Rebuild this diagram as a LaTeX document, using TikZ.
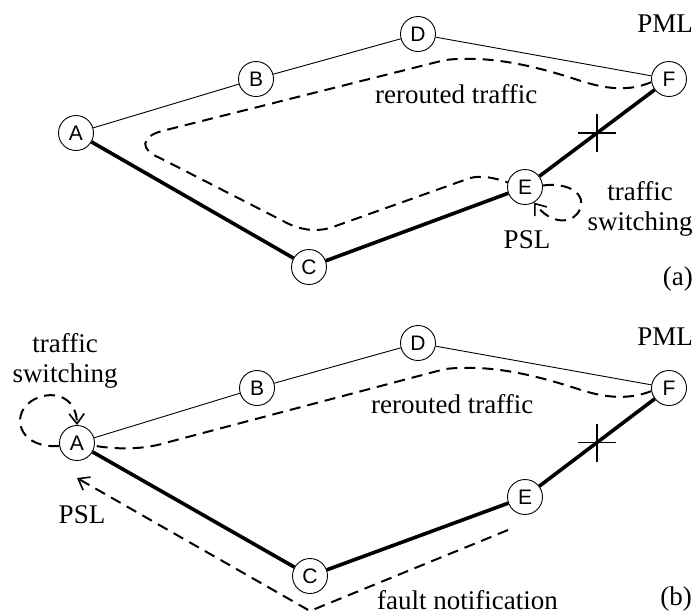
\documentclass[tikz,border=0pt]{standalone}
\usepackage{fontspec}
\setmainfont{Liberation Serif}
\newfontfamily\nodefont{Liberation Sans}
\usetikzlibrary{arrows.meta,calc}
\begin{document}
\begin{tikzpicture}[x=1pt,y=-1pt,
  router/.style={circle,draw,line width=0.9pt,fill=white,minimum size=35pt,inner sep=0pt,font=\nodefont\fontsize{21}{23}\selectfont},
  thinlink/.style={line width=0.9pt},
  thicklink/.style={line width=3.6pt},
  flow/.style={line width=2pt,dash pattern=on 11pt off 7pt},
  flowtip/.style={-{Straight Barb[length=10pt,width=15pt,line width=1.6pt]}},
  lbl/.style={font=\fontsize{27}{31}\selectfont,inner sep=0pt},
  crossmark/.style={line width=1.5pt}
]
\useasboundingbox (0,0) rectangle (700,614);

% ---------- panel (a) ----------
\node[router] (aA) at (76,133) {A};
\node[router] (aB) at (256,79) {B};
\node[router] (aC) at (309,267) {C};
\node[router] (aD) at (418,34) {D};
\node[router] (aE) at (525,187) {E};
\node[router] (aF) at (669,79) {F};

\draw[thinlink] (aA) -- (aB);
\draw[thinlink] (aB) -- (aD);
\draw[thinlink] (aD) -- (aF);
\draw[thicklink] (aA) -- (aC);
\draw[thicklink] (aC) -- (aE);
\draw[thicklink] (aE) -- (aF);

\coordinate (aX) at ($(aE)!0.5!(aF)$);
\draw[crossmark] ([xshift=-19pt]aX) -- ([xshift=19pt]aX);
\draw[crossmark] ([yshift=-19pt]aX) -- ([yshift=19pt]aX);

\draw[flow] (aF.190) .. controls (628,92) and (605,89) .. (578,80)
  .. controls (535,66) and (490,55) .. (445,60) -- (162,131)
  .. controls (140,137) and (140,150) .. (160,158) -- (285,222)
  .. controls (300,230) and (315,232) .. (330,228) -- (470,178)
  .. controls (482,175) and (495,178) .. (aE.165);
\draw[flow,flowtip] (aE.5) .. controls (572,182) and (586,196) .. (580,209)
  .. controls (574,224) and (552,226) .. (aE.-60);

\node[lbl,anchor=base east] (aPML) at (693,32) {PML};
\node[lbl,anchor=base west] (aRT) at (375,103) {rerouted traffic};
\node[lbl,anchor=base] (aTS1) at (640,200) {traffic};
\node[lbl,anchor=base] (aTS2) at (640,230) {switching};
\node[lbl,anchor=base] (aPSL) at (527,248) {PSL};
\node[lbl,anchor=base east] (aLab) at (693,285) {(a)};

% ---------- panel (b) ----------
\node[router] (bA) at (77,443) {A};
\node[router] (bB) at (257,388) {B};
\node[router] (bC) at (310,576) {C};
\node[router] (bD) at (418,343) {D};
\node[router] (bE) at (525,497) {E};
\node[router] (bF) at (669,388) {F};

\draw[thinlink] (bA) -- (bB);
\draw[thinlink] (bB) -- (bD);
\draw[thinlink] (bD) -- (bF);
\draw[thicklink] (bA) -- (bC);
\draw[thicklink] (bC) -- (bE);
\draw[thicklink] (bE) -- (bF);

\coordinate (bX) at ($(bE)!0.5!(bF)$);
\draw[crossmark] ([xshift=-19pt]bX) -- ([xshift=19pt]bX);
\draw[crossmark] ([yshift=-19pt]bX) -- ([yshift=19pt]bX);

\draw[flow] (bF.190) .. controls (628,400) and (605,398) .. (578,389)
  .. controls (535,375) and (490,364) .. (445,369) -- (165,443)
  .. controls (145,449) and (120,450) .. (bA.-9);
\draw[flow,flowtip] (bA.190) .. controls (20,448) and (14,420) .. (25,407)
  .. controls (38,390) and (76,388) .. (bA.north);

\coordinate (ftail) at (508,530);
\coordinate (fbend) at (310,611);
\coordinate (ftip) at (77,478);
\draw[flow,flowtip] (ftail) -- (fbend) -- (ftip);

\node[lbl,anchor=base east] (bPML) at (693,345) {PML};
\node[lbl,anchor=base west] (bRT) at (371,413) {rerouted traffic};
\node[lbl,anchor=base] (bTS1) at (65,352) {traffic};
\node[lbl,anchor=base] (bTS2) at (65,382) {switching};
\node[lbl,anchor=base] (bPSL) at (82,523) {PSL};
\node[lbl,anchor=base west] (bFN) at (377,609) {fault notification};
\node[lbl,anchor=base east] (bLab) at (692,605) {(b)};
\end{tikzpicture}
\end{document}
